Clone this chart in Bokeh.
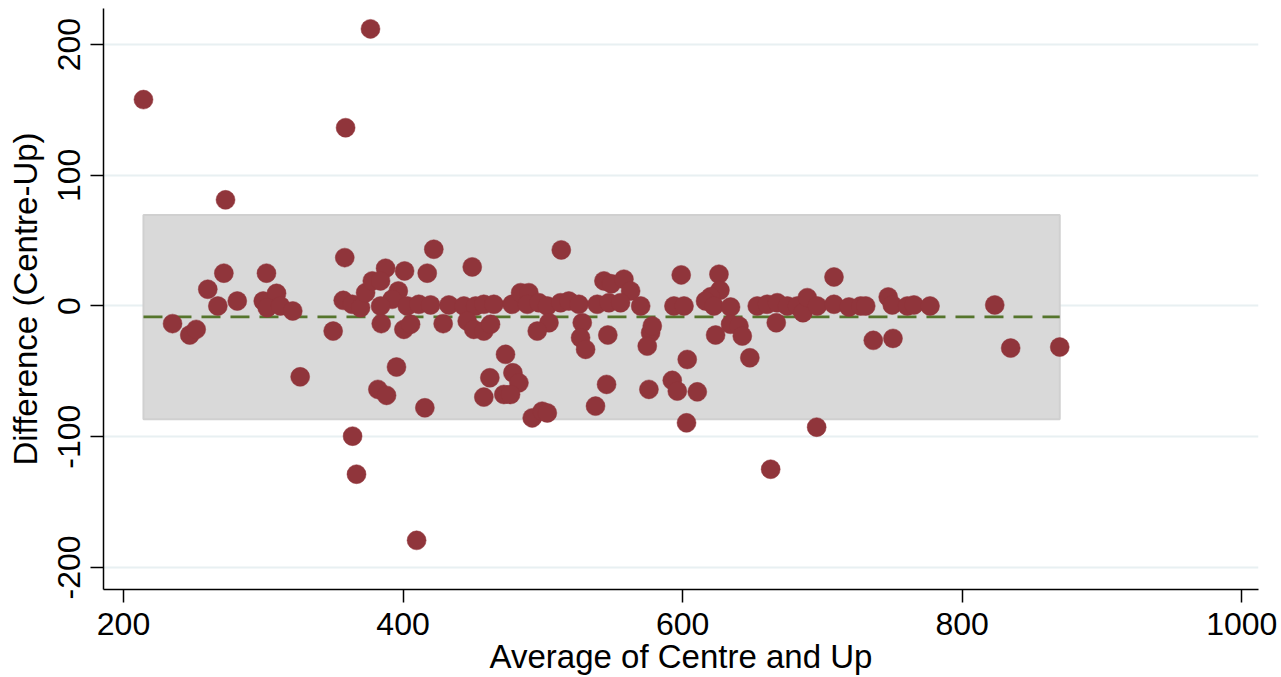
from bokeh.plotting import figure
from bokeh.models import ColumnDataSource, FixedTicker
from bokeh.embed import file_html
from bokeh.resources import INLINE

# Average of Centre and Up
avg = [214.3, 376.7, 358.9, 273.0, 363.9, 366.7, 409.7, 695.9, 663.0,
       235.1, 247.4, 252.0, 260.3, 271.8, 267.5, 281.4, 302.3, 300.0, 309.5, 302.8, 312.3, 321.1, 326.4, 350.0,
       358.3, 422.0, 449.5, 357.2, 363.6, 369.6, 373.2, 378.0, 387.5, 383.9, 401.1, 417.3, 396.6, 392.2,
       383.9, 384.4, 400.6, 405.4, 403.0, 411.3, 419.7, 432.8, 428.7, 443.5, 451.9, 457.8, 445.9, 450.6,
       457.8, 395.3, 382.0, 388.2, 415.6, 462.1, 457.8,
       513.2, 465.0, 462.6, 478.0, 484.1, 490.0, 488.9, 497.2, 503.2, 504.4, 496.0, 512.7, 518.6, 525.8,
       528.2, 527.0, 530.6, 538.9, 543.7, 549.0, 547.3, 558.0, 562.8, 555.6, 570.0, 546.5, 577.1, 574.7,
       473.3, 478.6, 482.9, 472.1, 476.9, 492.4, 499.5, 503.2, 545.6, 537.7, 575.9,
       599.0, 626.0, 626.7, 620.0, 593.8, 601.0, 616.4, 622.4, 634.3, 634.3, 640.3, 623.6, 642.7, 578.3,
       603.3, 648.1, 592.6, 596.2, 610.5, 602.8, 653.4, 660.5, 667.7, 674.9, 682.0, 686.1, 689.2, 667.0,
       696.3, 708.3, 708.3, 719.0, 727.4, 731.0, 736.4, 747.1, 750.0, 750.5, 760.8, 765.5, 777.0,
       823.3, 834.7, 869.8]

# Difference (Centre-Up)
diff = [157.9, 212.0, 136.4, 81.2, -99.6, -128.7, -179.3, -92.7, -124.9,
        -13.5, -22.2, -17.9, 12.8, 25.1, 0.0, 3.8, 25.1, 3.8, 9.7, -1.3, 0.0, -3.8, -54.2, -19.2,
        37.0, 43.4, 29.9, 4.3, 1.3, -1.3, 10.2, 19.2, 28.9, 19.2, 26.8, 25.1, 11.5, 5.1,
        0.0, -13.5, -17.9, -14.0, 0.0, 1.3, 0.8, 0.8, -13.5, 0.0, 0.0, 1.3, -11.5, -17.9,
        -19.2, -46.7, -63.8, -68.4, -77.9, -54.9, -69.7,
        42.9, 1.3, -14.0, 1.3, 10.2, 10.2, 1.3, 2.5, 0.0, -12.8, -19.2, 2.5, 3.8, 1.3,
        -12.8, -24.3, -33.2, 1.3, 19.2, 17.0, 2.5, 20.5, 11.5, 2.5, 0.0, -22.2, -20.5, -30.7,
        -37.0, -51.1, -58.8, -67.7, -67.7, -85.6, -80.5, -81.8, -60.0, -76.6, -63.8,
        23.8, 24.3, 12.0, 7.0, 0.0, 0.0, 3.8, 0.0, -0.8, -14.0, -15.3, -22.2, -23.0, -15.3,
        -40.9, -39.6, -56.9, -65.1, -65.7, -89.4, 0.0, 1.3, 2.5, 0.0, 0.0, -5.1, 6.4, -12.8,
        0.0, 22.2, 1.3, -0.8, 0.0, 0.0, -26.3, 6.9, 0.8, -24.8, 0.0, 0.8, 0.0,
        0.8, -32.2, -31.4]

mean_diff = -8.4
upper_loa = 69.7
lower_loa = -86.6

x_ticks = [200, 400, 600, 800, 1000]
y_ticks = [-200, -100, 0, 100, 200]
y_tick_labels = ["-200", "-100", "0", "100", "200"]

FONT = "Liberation Sans"

p = figure(width=1281, height=677, x_range=(185.7, 1012), y_range=(-216.9, 227.6),
           output_backend="svg", toolbar_location=None,
           min_border_left=103, min_border_right=23, min_border_top=8, min_border_bottom=80)
p.outline_line_color = None
p.background_fill_color = "white"
p.border_fill_color = "white"

x0, x1 = min(avg), max(avg)
p.quad(left=[x0], right=[x1], bottom=[lower_loa], top=[upper_loa],
       fill_color="#D9D9D9", line_color="#D0D0D0", line_width=2)
p.line(x=[x0, x1], y=[mean_diff, mean_diff], line_color="#55752C", line_width=2.8,
       line_dash="19 10")

src = ColumnDataSource(data=dict(x=avg, y=diff))
p.scatter("x", "y", source=src, size=19, fill_color="#90353B", line_color="#90353B",
          line_width=0.5)

p.xaxis.ticker = FixedTicker(ticks=x_ticks)
p.yaxis.ticker = FixedTicker(ticks=y_ticks)
p.yaxis.major_label_overrides = {t: s for t, s in zip(y_ticks, y_tick_labels)}
p.xgrid.grid_line_color = None
p.ygrid.grid_line_color = "#E8F0F2"
p.ygrid.grid_line_width = 2

for ax in (p.xaxis[0], p.yaxis[0]):
    ax.axis_line_color = "black"
    ax.axis_line_width = 1.5
    ax.major_tick_line_color = "black"
    ax.major_tick_line_width = 1.5
    ax.major_tick_out = 13
    ax.major_tick_in = 0
    ax.minor_tick_line_color = None
    ax.major_label_text_font = FONT
    ax.major_label_text_font_size = "32px"
    ax.major_label_text_color = "black"
    ax.axis_label_text_font = FONT
    ax.axis_label_text_font_size = "33px"
    ax.axis_label_text_font_style = "normal"
    ax.axis_label_text_color = "black"

p.xaxis.axis_label = "Average of Centre and Up"
p.yaxis.axis_label = "Difference (Centre-Up)"
p.yaxis.major_label_orientation = "vertical"
p.xaxis.major_label_standoff = 10
p.yaxis.major_label_standoff = 10
p.xaxis.axis_label_standoff = 0
p.yaxis.axis_label_standoff = 12

open("out.html", "w").write(file_html(p, INLINE))
